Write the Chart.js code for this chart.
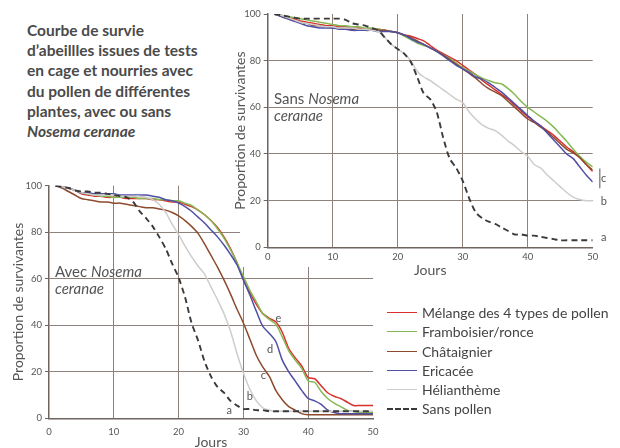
<!DOCTYPE html>
<html><head><meta charset="utf-8">
<script src="https://cdn.jsdelivr.net/npm/chart.js@4"></script>
<style>
html,body{margin:0;padding:0;background:#fff;}
body{width:620px;height:448px;position:relative;overflow:hidden;font-family:Lato,sans-serif;}
.abs{position:absolute;}
#title{left:27px;top:20px;font-weight:700;font-size:15.5px;line-height:20.2px;color:#4a4a4a;}
.lbl{font-size:15px;line-height:17px;color:#555;}
#legend{left:387px;top:303px;font-size:14px;color:#444;}
#legend .row{height:19.3px;line-height:19.3px;display:flex;align-items:center;}
#legend .ln{width:30px;margin-right:5px;border-top-width:1.6px;border-top-style:solid;}
</style></head>
<body>
<div class="abs" style="left:0;top:170px;"><canvas id="cBot" width="390" height="282"></canvas></div>
<div class="abs" style="left:240px;top:0;width:380px;height:267px;background:#fff;"></div>
<div class="abs" style="left:232px;top:0;"><canvas id="cTop" width="388" height="280"></canvas></div>
<div id="title" class="abs">Courbe de survie<br>d’abeillles issues de tests<br>en cage et nourries avec<br>du pollen de différentes<br>plantes, avec ou sans<br><i>Nosema ceranae</i></div>
<div class="abs lbl" style="left:274px;top:90px;">Sans <i>Nosema</i><br><i>ceranae</i></div>
<div class="abs lbl" style="left:55px;top:263px;">Avec <i>Nosema</i><br><i>ceranae</i></div>
<div id="legend" class="abs"></div>
<script>
const days = [1,2,3,4,5,6,7,8,9,10,11,12,13,14,15,16,17,18,19,20,21,22,23,24,25,26,27,28,29,30,31,32,33,34,35,36,37,38,39,40,41,42,43,44,45,46,47,48,49,50];
const seriesNames = ["Mélange des 4 types de pollen","Framboisier/ronce","Châtaignier","Ericacée","Hélianthème","Sans pollen"];
const xTicks = [0,10,20,30,40,50];
const yTicks = [0,20,40,60,80,100];

// Sans Nosema ceranae (top panel)
const sansMelange = [100,99.5,98.5,98,97,96.5,96,95.5,95,95,94.5,94.5,94,94,93.5,93.5,93.5,93,92.5,92,91,90.5,89.5,88.5,86.5,84.5,83,81.5,80,78,76,74,71.5,69.5,67.5,65.5,63.5,61,58.5,56,54,52,50,48,45.5,43,41,38.5,35.5,32.5];
const sansFramboisier = [100,99.5,99,98.5,98,97.5,97,96.5,96,95.5,95,95,94.5,94.5,94,94,93.5,93,92.5,92,90.5,89,87.5,86.5,85.5,84,82.5,81,79,77,75.5,74,72.5,71.5,70.5,70,68,65.5,62.5,60,58,56,54,51.5,48.5,45.5,42,39,36.5,34.5];
const sansChataignier = [100,99,98,97,96.5,96,95,95,94.5,94,94,93.5,93.5,93.5,93,93,93,93,92.5,92,91,90,88.5,87,85.5,84,82.5,80.5,78.5,76.5,74.5,72.5,70,68,66.5,65,62.5,60,57.5,55,53.5,51.5,49.5,47,44.5,42,40.5,38.5,35.5,33];
const sansEricacee = [100,99,98,97,96,95,94.5,94,94,94,93.5,93.5,93,93,93,93,92.5,92.5,92.5,92,91,89.5,88,87,85.5,84,82,80,78,76.5,75,73,72,70.5,68.5,66.5,64,61.5,59,56.5,54,52,49,46,43,40,38,34.5,31,28];
const sansHelianthemum = [100,99.5,98.5,97.5,96.5,96,95.5,95,94.5,94.5,94,94,94,93.5,93.5,93,92.5,90,87,85,83,80,75.5,73,71.5,69.5,67.5,65.5,63.5,62,58,55,52.5,51,50,48,45.5,43.5,41,39,35.5,34,31,28.5,26,23.5,21.5,20.5,20,20];
const sansSansPollen = [100,99.5,99,98.5,98,98,98,98,98,98,98,97.5,96,95.5,95,94,93,90,87,85,83,79.5,73,66,63.5,58,47,38,34,28.5,21,15,12.5,11,10,8.5,7,5.5,5.5,5,5,4.5,4,3.5,3,3,3,3,3,3];

// Avec Nosema ceranae (bottom panel)
const avecMelange = [100,99.5,99,98,96.5,96,95.5,95.5,95,95,95,94.5,94.5,94.5,94.5,94,94,93.5,93,93,92,91,89.5,87.5,85,82,78,73,67,59.5,54,49,45,43,41.5,37,30,26,22.5,17.5,17,14,11,9.5,8.5,7,5.5,5.5,5.5,5.5];
const avecFramboisier = [100,99.5,99,98,97,96.5,96,95.5,95.5,95,95,95,95,94.5,94.5,94.5,94,94,93.5,93.5,92.5,91.5,89.5,87.5,85,81.5,77.5,72.5,67,61,55,50,45,42.5,40.5,35,29,25,21.5,16,15.5,11.5,8.5,6.5,5,3.5,3,2.5,2.5,2.5];
const avecChataignier = [100,99,97.5,96,94.5,94,93.5,93,93,92.5,92.5,92,91.5,91,90.5,90.5,90,89.5,88.5,87,85,82.5,79.5,75,70,65,59.5,53.5,47,41,34,27,22,18,12,8,5,3.5,2,1.5,1.5,1.5,1.5,1.5,1.5,1.5,1.5,1.5,1.5,1.5];
const avecEricacee = [100,99.5,99,98,97,97,96.5,96.5,96.5,96.5,96,96,96,96,96,95.5,95,94,93.5,92.5,91,89,86.5,84,81,78,74.5,70.5,66,59.5,53,46,39.5,36.5,33,25,20,16,12,8.5,7.5,6,3.5,2.5,2,2,2,2,2,2];
const avecHelianthemum = [100,99.5,99,98,97,96.5,96,96,96,96,95.5,95.5,95.5,95.5,95,94,92,88.5,83.5,79,74,69.5,65.5,62,56.5,51,45,37.5,28,19.5,12.5,7.5,4.5,3.5,3,3,3,3,3,3,3,3,3,3,3,3,3,3,3,3];
const avecSansPollen = [100,99.5,99,98,97.5,97.5,97,97,96.5,96,95.5,95,93,89,86,82.5,78,73,66.5,60.5,52,41,33.5,24.5,18,13.5,11,7.5,5.5,4,4,3.5,3.5,3,3,3,3,3,3,3,3,3,3,3,3,3,3,3,3,3];

// Significance letters (in data units: day, proportion)
const topLetters = [{t:"c",x:51.7,y:29.7},{t:"b",x:51.7,y:19.8},{t:"a",x:51.7,y:4.4}];
const topBracket = {x:51.1,y1:33.8,y2:25.3};
const botLetters = [{t:"e",x:35.4,y:43},{t:"d",x:34.1,y:29.8},{t:"c",x:33.1,y:18.3},{t:"b",x:31,y:9.3},{t:"a",x:27.8,y:3.3}];

const colors = ["#d8302c","#86b955","#8d4a2c","#4f4fa6","#cdcdcd","#3a3a3a"];
const gridCol = "#8f827c";

function mkData(arrs){
  return arrs.map((a,i)=>({
    label: seriesNames[i],
    data: days.map((d,j)=>({x:d,y:a[j]})),
    borderColor: colors[i],
    borderWidth: i===5?1.9:1.5,
    borderDash: i===5?[6,4]:[],
    pointRadius:0,
    tension:0.25,
    fill:false
  })).reverse();
}

const lettersPlugin = {
  id:'letters',
  afterDatasetsDraw(chart, args, opts){
    const {ctx, scales:{x,y}} = chart;
    ctx.save();
    ctx.font = '11px Lato';
    ctx.fillStyle = '#555';
    ctx.textAlign='center'; ctx.textBaseline='middle';
    (opts.letters||[]).forEach(l=>ctx.fillText(l.t, x.getPixelForValue(l.x), y.getPixelForValue(l.y)));
    if(opts.bracket){
      const b=opts.bracket;
      ctx.strokeStyle='#555'; ctx.lineWidth=1;
      ctx.beginPath();
      ctx.moveTo(x.getPixelForValue(b.x), y.getPixelForValue(b.y1));
      ctx.lineTo(x.getPixelForValue(b.x), y.getPixelForValue(b.y2));
      ctx.stroke();
    }
    ctx.restore();
  }
};

function mkOptions(padLeft, padTop, padRight, yW, xH, xPad, titleBot, letters, bracket){
  return {
    responsive:false, animation:false, devicePixelRatio:1,
    layout:{padding:{left:padLeft,top:padTop,right:padRight,bottom:0}},
    plugins:{legend:{display:false}, tooltip:{enabled:false}, letters:{letters, bracket}},
    scales:{
      x:{type:'linear',min:0,max:50,
        afterBuildTicks:s=>{s.ticks = xTicks.map(v=>({value:v}));},
        afterFit:s=>{s.height=xH;},
        grid:{drawTicks:false,color:c=>(c.tick&&c.tick.value>0&&c.tick.value<50)?gridCol:'rgba(0,0,0,0)',lineWidth:1},
        border:{color:'#6f6560',width:1.5},
        ticks:{padding:xPad,color:'#555',font:{family:'Lato',size:9.5},maxRotation:0},
        title:{display:true,text:'Jours',color:'#555',font:{family:'Lato',size:14},padding:{top:0,bottom:titleBot}}
      },
      y:{min:0,max:100,
        afterBuildTicks:s=>{s.ticks = yTicks.map(v=>({value:v}));},
        afterFit:s=>{s.width=yW;},
        grid:{tickLength:4,tickColor:'#6f6560',color:c=>(c.tick&&c.tick.value>0&&c.tick.value<100)?gridCol:'rgba(0,0,0,0)',lineWidth:1},
        border:{color:'#6f6560',width:1.5},
        ticks:{padding:3,color:'#555',font:{family:'Lato',size:9.5}},
        title:{display:true,text:'Proportion de survivantes',color:'#555',font:{family:'Lato',size:14},padding:{top:0,bottom:0}}
      }
    }
  };
}

new Chart(document.getElementById('cTop'),{
  type:'line',
  data:{datasets:mkData([sansMelange,sansFramboisier,sansChataignier,sansEricacee,sansHelianthemum,sansSansPollen])},
  options:mkOptions(0,14,27.3,35.7,32.7,4,1,topLetters,topBracket),
  plugins:[lettersPlugin]
});
new Chart(document.getElementById('cBot'),{
  type:'line',
  data:{datasets:mkData([avecMelange,avecFramboisier,avecChataignier,avecEricacee,avecHelianthemum,avecSansPollen])},
  options:mkOptions(9.6,15.7,17,39.4,33.7,8,1.3,botLetters,null),
  plugins:[lettersPlugin]
});

// HTML legend
const lg = document.getElementById('legend');
seriesNames.forEach((n,i)=>{
  const r=document.createElement('div'); r.className='row';
  const l=document.createElement('div'); l.className='ln';
  l.style.borderTopColor=colors[i];
  if(i===5){l.style.borderTopStyle='dashed'; l.style.borderTopWidth='2px';}
  r.appendChild(l);
  const t=document.createElement('span'); t.textContent=n; r.appendChild(t);
  lg.appendChild(r);
});
</script>
</body></html>
